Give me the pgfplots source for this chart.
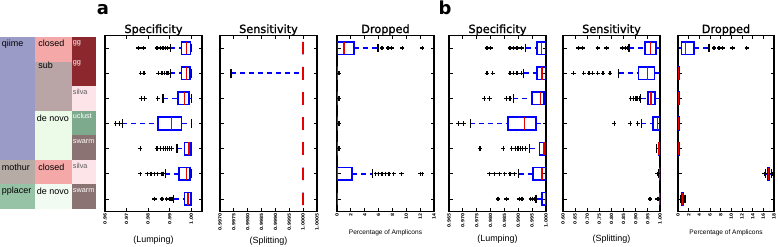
\documentclass[border=0pt]{standalone}
\usepackage{fontspec}
\setmainfont{Liberation Sans}
\newfontfamily\dejavu{DejaVu Sans}
\newfontfamily\dejavutitle[FakeBold=1.2]{DejaVu Sans}
\usepackage{pgfplots}
\pgfplotsset{compat=1.18}
\usepgfplotslibrary{statistics}

\definecolor{cqiime}{RGB}{155,155,200}
\definecolor{cmothur}{RGB}{182,172,165}
\definecolor{cpplacer}{RGB}{150,195,165}
\definecolor{cclosed}{RGB}{245,168,168}
\definecolor{csub}{RGB}{185,165,165}
\definecolor{cdenovo}{RGB}{236,250,232}
\definecolor{cdenovoB}{RGB}{242,251,242}
\definecolor{cgg}{RGB}{140,40,45}
\definecolor{csilva}{RGB}{253,228,232}
\definecolor{cuclust}{RGB}{125,170,140}
\definecolor{cswarm}{RGB}{140,115,115}
\definecolor{ctxt}{RGB}{90,90,90}
\definecolor{bblue}{RGB}{0,0,255}
\definecolor{mred}{RGB}{230,0,0}

\newcommand{\tfont}{\dejavu\bfseries\fontsize{4.4}{5}\selectfont}

\pgfplotsset{
  panel/.style={
    scale only axis, width=97bp, height=176bp, anchor=south west,
    y dir=reverse, ymin=0.5, ymax=7.5, ytick={1,2,3,4,5,6,7}, yticklabels={},
    tick align=inside, major tick length=3.5bp, tick pos=both,
    axis line style={line width=1.4bp},
    every tick/.style={black, line width=0.8bp},
    xticklabel style={rotate=90, anchor=east, font=\tfont, inner sep=1.5bp},
    every axis title shift=0pt,
    title style={font=\dejavutitle\fontsize{11.3}{13}\selectfont, at={(0.5,1)}, anchor=base, yshift=2.5bp, inner sep=0pt},
    xlabel style={at={(axis description cs:0.5,0)}, anchor=center, font=\fontsize{9}{10}\selectfont},
    boxplot/draw direction=x,
    boxplot/box extend=0.5,
    boxplot/whisker extend=0.35,
    boxplot/every box/.style={draw=bblue, line width=1.6bp, solid},
    boxplot/every median/.style={draw=mred, line width=1.6bp, solid},
    boxplot/draw/lower whisker/.code={%
      \draw[bblue, line width=1.6bp, dash pattern=on 5bp off 4bp]
        (boxplot box cs:\pgfplotsboxplotvalue{lower whisker},0.5) --
        (boxplot box cs:\pgfplotsboxplotvalue{lower quartile},0.5);
      \draw[black, line width=1.3bp]
        (boxplot whisker cs:\pgfplotsboxplotvalue{lower whisker},0) --
        (boxplot whisker cs:\pgfplotsboxplotvalue{lower whisker},1);
    },
    boxplot/draw/upper whisker/.code={%
      \draw[bblue, line width=1.6bp, dash pattern=on 5bp off 4bp]
        (boxplot box cs:\pgfplotsboxplotvalue{upper quartile},0.5) --
        (boxplot box cs:\pgfplotsboxplotvalue{upper whisker},0.5);
      \draw[black, line width=1.3bp]
        (boxplot whisker cs:\pgfplotsboxplotvalue{upper whisker},0) --
        (boxplot whisker cs:\pgfplotsboxplotvalue{upper whisker},1);
    },
  },
  bx/.style={mark=+, mark size=2.2bp, mark options={black, solid, line width=1.2bp}},
  cell/.style={fill=#1, draw=none},
}

\begin{document}
\begin{tikzpicture}
\path[use as bounding box] (0bp,0bp) rectangle (778bp,247bp);

% ---------- method table ----------
\begin{axis}[at={(0bp,38bp)}, anchor=south west, scale only axis, width=96bp, height=172bp,
  xmin=0, xmax=96, ymin=37, ymax=209, y dir=reverse, hide axis, clip=false]
\addplot[cell=cqiime] coordinates {(0,37) (35,37) (35,159.86) (0,159.86)} -- cycle;
\addplot[cell=cmothur] coordinates {(0,159.86) (35,159.86) (35,184.43) (0,184.43)} -- cycle;
\addplot[cell=cpplacer] coordinates {(0,184.43) (35,184.43) (35,209) (0,209)} -- cycle;
\addplot[cell=cclosed] coordinates {(35,37) (72,37) (72,61.57) (35,61.57)} -- cycle;
\addplot[cell=csub] coordinates {(35,61.57) (72,61.57) (72,110.71) (35,110.71)} -- cycle;
\addplot[cell=cdenovo] coordinates {(35,110.71) (72,110.71) (72,159.86) (35,159.86)} -- cycle;
\addplot[cell=cclosed] coordinates {(35,159.86) (72,159.86) (72,184.43) (35,184.43)} -- cycle;
\addplot[cell=cdenovoB] coordinates {(35,184.43) (72,184.43) (72,209) (35,209)} -- cycle;
\addplot[cell=cgg] coordinates {(72,37) (96,37) (96,86.14) (72,86.14)} -- cycle;
\addplot[cell=csilva] coordinates {(72,86.14) (96,86.14) (96,110.71) (72,110.71)} -- cycle;
\addplot[cell=cuclust] coordinates {(72,110.71) (96,110.71) (96,135.29) (72,135.29)} -- cycle;
\addplot[cell=cswarm] coordinates {(72,135.29) (96,135.29) (96,159.86) (72,159.86)} -- cycle;
\addplot[cell=csilva] coordinates {(72,159.86) (96,159.86) (96,184.43) (72,184.43)} -- cycle;
\addplot[cell=cswarm] coordinates {(72,184.43) (96,184.43) (96,209) (72,209)} -- cycle;
\begin{scope}[font=\fontsize{9}{10}\selectfont]
\node[anchor=base west, inner sep=0pt] at (axis cs:1.7,46.7) {qiime};
\node[anchor=base west, inner sep=0pt] at (axis cs:1.7,170) {mothur};
\node[anchor=base west, inner sep=0pt] at (axis cs:1.7,193.3) {pplacer};
\node[anchor=base west, inner sep=0pt] at (axis cs:38.3,46.7) {closed};
\node[anchor=base west, inner sep=0pt] at (axis cs:38.3,68.5) {sub};
\node[anchor=base west, inner sep=0pt] at (axis cs:36.7,121.7) {de novo};
\node[anchor=base west, inner sep=0pt] at (axis cs:38.3,170.7) {closed};
\node[anchor=base west, inner sep=0pt] at (axis cs:36.7,194) {de novo};
\end{scope}
\begin{scope}[font=\fontsize{7.3}{8}\selectfont]
\node[anchor=base west, inner sep=0pt, text=white] at (axis cs:72.7,45) {gg};
\node[anchor=base west, inner sep=0pt, text=white] at (axis cs:72.7,65) {gg};
\node[anchor=base west, inner sep=0pt, text=ctxt] at (axis cs:72.7,94) {silva};
\node[anchor=base west, inner sep=0pt, text=white] at (axis cs:72.7,118.3) {uclust};
\node[anchor=base west, inner sep=0pt, text=white] at (axis cs:72.7,143.3) {swarm};
\node[anchor=base west, inner sep=0pt, text=ctxt] at (axis cs:72.7,168.3) {silva};
\node[anchor=base west, inner sep=0pt, text=white] at (axis cs:72.7,192.7) {swarm};
\end{scope}
\end{axis}

\node[font=\dejavu\bfseries\fontsize{18}{20}\selectfont, anchor=base] at (103bp,232bp) {a};
\node[font=\dejavu\bfseries\fontsize{18}{20}\selectfont, anchor=base] at (445bp,232bp) {b};

% ---------- a: Specificity ----------
\begin{axis}[panel, at={(105bp,35.5bp)}, xmin=0.96, xmax=1.005,
  xtick={0.96,0.97,0.98,0.99,1.00}, xticklabels={0.96,0.97,0.98,0.99,1.00},
  title={Specificity}, xlabel={(Lumping)}, xlabel style={yshift=-28.5bp}]
\addplot[bx, boxplot prepared={draw position=1, lower whisker=0.9903, lower quartile=0.9955, median=0.9978, upper quartile=0.9997, upper whisker=1.0}]
  coordinates {(0,0.9755) (0,0.9778) (0,0.9841) (0,0.9856) (0,0.9869) (0,0.9880) (0,0.9891)};
\addplot[bx, boxplot prepared={draw position=2, lower whisker=0.9903, lower quartile=0.9955, median=0.9978, upper quartile=0.9994, upper whisker=1.0}]
  coordinates {(0,0.9766) (0,0.9781) (0,0.9848) (0,0.9864) (0,0.9875) (0,0.9888) (0,0.9895)};
\addplot[bx, boxplot prepared={draw position=3, lower whisker=0.9869, lower quartile=0.9939, median=0.9969, upper quartile=0.9989, upper whisker=1.0}]
  coordinates {(0,0.9770) (0,0.9783) (0,0.9845)};
\addplot[bx, boxplot prepared={draw position=4, lower whisker=0.9681, lower quartile=0.9845, median=0.9908, upper quartile=0.9955, upper whisker=1.0}]
  coordinates {(0,0.9650) (0,0.9669)};
\addplot[bx, boxplot prepared={draw position=5, lower whisker=0.9934, lower quartile=0.9969, median=0.9989, upper quartile=1.0, upper whisker=1.0}]
  coordinates {(0,0.9763) (0,0.9841) (0,0.9856) (0,0.9872) (0,0.9880) (0,0.9891) (0,0.9900) (0,0.9908)};
\addplot[bx, boxplot prepared={draw position=6, lower whisker=0.9880, lower quartile=0.9942, median=0.9978, upper quartile=0.9994, upper whisker=1.0}]
  coordinates {(0,0.9763) (0,0.9797) (0,0.9813) (0,0.9828) (0,0.9845) (0,0.9864) (0,0.9872)};
\addplot[bx, boxplot prepared={draw position=7, lower whisker=0.9919, lower quartile=0.9969, median=0.9986, upper quartile=1.0, upper whisker=1.0}]
  coordinates {(0,0.9830) (0,0.9864) (0,0.9887) (0,0.9898) (0,0.9906) (0,0.9912)};
\end{axis}

% ---------- a: Sensitivity ----------
\begin{axis}[panel, at={(220bp,35.5bp)}, xmin=0.9970, xmax=1.0005,
  xtick={0.9970,0.9975,0.9980,0.9985,0.9990,0.9995,1.0000,1.0005},
  xticklabels={0.9970,0.9975,0.9980,0.9985,0.9990,0.9995,1.0000,1.0005},
  title={Sensitivity}, xlabel={(Splitting)}, xlabel style={yshift=-29.5bp}]
\addplot[bx, boxplot prepared={draw position=1, lower whisker=1.0, lower quartile=1.0, median=1.0, upper quartile=1.0, upper whisker=1.0}] coordinates {};
\addplot[bx, boxplot prepared={draw position=2, lower whisker=0.9974, lower quartile=1.0, median=1.0, upper quartile=1.0, upper whisker=1.0}] coordinates {};
\addplot[bx, boxplot prepared={draw position=3, lower whisker=1.0, lower quartile=1.0, median=1.0, upper quartile=1.0, upper whisker=1.0}] coordinates {};
\addplot[bx, boxplot prepared={draw position=4, lower whisker=1.0, lower quartile=1.0, median=1.0, upper quartile=1.0, upper whisker=1.0}] coordinates {};
\addplot[bx, boxplot prepared={draw position=5, lower whisker=1.0, lower quartile=1.0, median=1.0, upper quartile=1.0, upper whisker=1.0}] coordinates {};
\addplot[bx, boxplot prepared={draw position=6, lower whisker=1.0, lower quartile=1.0, median=1.0, upper quartile=1.0, upper whisker=1.0}] coordinates {};
\addplot[bx, boxplot prepared={draw position=7, lower whisker=1.0, lower quartile=1.0, median=1.0, upper quartile=1.0, upper whisker=1.0}] coordinates {};
\end{axis}

% ---------- a: Dropped ----------
\begin{axis}[panel, at={(337bp,35.5bp)}, xmin=0, xmax=14,
  xtick={0,2,4,6,8,10,12,14}, xticklabels={0,2,4,6,8,10,12,14},
  title={Dropped}, xlabel={Percentage of Amplicons},
  xlabel style={yshift=-20.8bp, font=\fontsize{6.6}{7}\selectfont}]
\addplot[bx, boxplot prepared={draw position=1, lower whisker=0, lower quartile=0.05, median=1.0, upper quartile=2.45, upper whisker=5.9}]
  coordinates {(0,6.5) (0,7.35) (0,7.9) (0,9.4) (0,12.3)};
\addplot[bx, boxplot prepared={draw position=2, lower whisker=0, lower quartile=0, median=0, upper quartile=0.05, upper whisker=0.1}] coordinates {(0,0.2) (0,0.3)};
\addplot[bx, boxplot prepared={draw position=3, lower whisker=0, lower quartile=0, median=0, upper quartile=0.05, upper whisker=0.1}] coordinates {(0,0.2) (0,0.3)};
\addplot[bx, boxplot prepared={draw position=4, lower whisker=0, lower quartile=0, median=0, upper quartile=0.05, upper whisker=0.1}] coordinates {(0,0.2) (0,0.3)};
\addplot[bx, boxplot prepared={draw position=5, lower whisker=0, lower quartile=0, median=0, upper quartile=0.05, upper whisker=0.1}] coordinates {(0,0.2) (0,0.3)};
\addplot[bx, boxplot prepared={draw position=6, lower whisker=0, lower quartile=0, median=0.05, upper quartile=2.2, upper whisker=5.1}]
  coordinates {(0,5.6) (0,6.0) (0,6.5) (0,7.0) (0,7.5) (0,8.2) (0,9.3) (0,12.0) (0,12.3)};
\addplot[bx, boxplot prepared={draw position=7, lower whisker=0, lower quartile=0, median=0, upper quartile=0, upper whisker=0}] coordinates {};
\end{axis}

% ---------- b: Specificity ----------
\begin{axis}[panel, at={(449bp,35.5bp)}, xmin=0.965, xmax=1.000,
  xtick={0.965,0.970,0.975,0.980,0.985,0.990,0.995,1.000},
  xticklabels={0.965,0.970,0.975,0.980,0.985,0.990,0.995,1.000},
  title={Specificity}, xlabel={(Lumping)}, xlabel style={yshift=-28bp}]
\addplot[bx, boxplot prepared={draw position=1, lower whisker=0.99261, lower quartile=0.99672, median=0.99833, upper quartile=1.0, upper whisker=1.0}]
  coordinates {(0,0.97868) (0,0.98010) (0,0.98701) (0,0.98826) (0,0.98950) (0,0.99112)};
\addplot[bx, boxplot prepared={draw position=2, lower whisker=0.99199, lower quartile=0.99672, median=0.99858, upper quartile=1.0, upper whisker=1.0}]
  coordinates {(0,0.97868) (0,0.98080) (0,0.98701) (0,0.98826) (0,0.98950) (0,0.99112)};
\addplot[bx, boxplot prepared={draw position=3, lower whisker=0.98826, lower quartile=0.99485, median=0.99796, upper quartile=0.99920, upper whisker=0.99983}]
  coordinates {(0,0.97769) (0,0.97955) (0,0.98577) (0,0.98701)};
\addplot[bx, boxplot prepared={draw position=4, lower whisker=0.97271, lower quartile=0.98639, median=0.99224, upper quartile=0.99634, upper whisker=1.0}]
  coordinates {(0,0.96836) (0,0.97022)};
\addplot[bx, boxplot prepared={draw position=5, lower whisker=0.99410, lower quartile=0.99759, median=0.99920, upper quartile=1.0, upper whisker=1.0}]
  coordinates {(0,0.97619) (0,0.98453) (0,0.98764) (0,0.98888) (0,0.98988) (0,0.99075) (0,0.99162) (0,0.99261)};
\addplot[bx, boxplot prepared={draw position=6, lower whisker=0.99012, lower quartile=0.99535, median=0.99846, upper quartile=1.0, upper whisker=1.0}]
  coordinates {(0,0.97955) (0,0.98142) (0,0.98328) (0,0.98515) (0,0.98701) (0,0.98863)};
\addplot[bx, boxplot prepared={draw position=7, lower whisker=0.99634, lower quartile=0.99858, median=0.99983, upper quartile=1.0, upper whisker=1.0}]
  coordinates {(0,0.98266) (0,0.98577) (0,0.99037) (0,0.99137) (0,0.99448) (0,0.99510) (0,0.99572)};
\end{axis}

% ---------- b: Sensitivity ----------
\begin{axis}[panel, at={(563bp,35.5bp)}, xmin=0.60, xmax=1.00,
  xtick={0.60,0.65,0.70,0.75,0.80,0.85,0.90,0.95,1.00},
  xticklabels={0.60,0.65,0.70,0.75,0.80,0.85,0.90,0.95,1.00},
  title={Sensitivity}, xlabel={(Splitting)}, xlabel style={yshift=-28bp}]
\addplot[bx, boxplot prepared={draw position=1, lower whisker=0.8724, lower quartile=0.9369, median=0.9613, upper quartile=0.9828, upper whisker=1.0}]
  coordinates {(0,0.6645) (0,0.6817) (0,0.7434) (0,0.7792) (0,0.8437) (0,0.8581) (0,0.8652)};
\addplot[bx, boxplot prepared={draw position=2, lower whisker=0.8294, lower quartile=0.9111, median=0.9484, upper quartile=0.9770, upper whisker=1.0}]
  coordinates {(0,0.6430) (0,0.6860) (0,0.7075) (0,0.7219) (0,0.7434) (0,0.7649) (0,0.7935)};
\addplot[bx, boxplot prepared={draw position=3, lower whisker=0.9197, lower quartile=0.9513, median=0.9627, upper quartile=0.9799, upper whisker=1.0}]
  coordinates {(0,0.8796) (0,0.8910) (0,0.9011) (0,0.9082) (0,0.9154)};
\addplot[bx, boxplot prepared={draw position=4, lower whisker=0.9226, lower quartile=0.9699, median=0.9900, upper quartile=1.0, upper whisker=1.0}]
  coordinates {(0,0.8108) (0,0.8767) (0,0.9082)};
\addplot[bx, boxplot prepared={draw position=5, lower whisker=0.985, lower quartile=0.993, median=0.997, upper quartile=1.0, upper whisker=1.0}] coordinates {};
\addplot[bx, boxplot prepared={draw position=6, lower whisker=0.995, lower quartile=0.999, median=1.0, upper quartile=1.0, upper whisker=1.0}]
  coordinates {(0,0.990) (0,0.992) (0,0.994)};
\addplot[bx, boxplot prepared={draw position=7, lower whisker=0.998, lower quartile=1.0, median=1.0, upper quartile=1.0, upper whisker=1.0}]
  coordinates {(0,0.9584) (0,0.9900) (0,0.9943)};
\end{axis}

% ---------- b: Dropped ----------
\begin{axis}[panel, at={(678bp,35.5bp)}, width=96bp, xmin=0, xmax=18,
  xtick={0,2,4,6,8,10,12,14,16,18}, xticklabels={0,2,4,6,8,10,12,14,16,18},
  title={Dropped}, xlabel={Percentage of Amplicons},
  xlabel style={yshift=-20.8bp, font=\fontsize{6.6}{7}\selectfont}]
\addplot[bx, boxplot prepared={draw position=1, lower whisker=0, lower quartile=0.69, median=1.44, upper quartile=3.0, upper whisker=5.8}]
  coordinates {(0,6.75) (0,7.7) (0,8.4) (0,10.2) (0,12.9)};
\addplot[bx, boxplot prepared={draw position=2, lower whisker=0, lower quartile=0.05, median=0.1, upper quartile=0.15, upper whisker=0.25}] coordinates {};
\addplot[bx, boxplot prepared={draw position=3, lower whisker=0, lower quartile=0.05, median=0.1, upper quartile=0.15, upper whisker=0.25}] coordinates {};
\addplot[bx, boxplot prepared={draw position=4, lower whisker=0, lower quartile=0.05, median=0.1, upper quartile=0.15, upper whisker=0.25}] coordinates {};
\addplot[bx, boxplot prepared={draw position=5, lower whisker=0, lower quartile=0.05, median=0.1, upper quartile=0.15, upper whisker=0.25}] coordinates {};
\addplot[bx, boxplot prepared={draw position=6, lower whisker=16.4, lower quartile=16.75, median=16.95, upper quartile=17.15, upper whisker=17.5}]
  coordinates {(0,16.2) (0,16.3) (0,17.6) (0,17.7)};
\addplot[bx, boxplot prepared={draw position=7, lower whisker=0.5, lower quartile=0.7, median=0.85, upper quartile=1.05, upper whisker=1.3}] coordinates {};
\end{axis}
\end{tikzpicture}
\end{document}
